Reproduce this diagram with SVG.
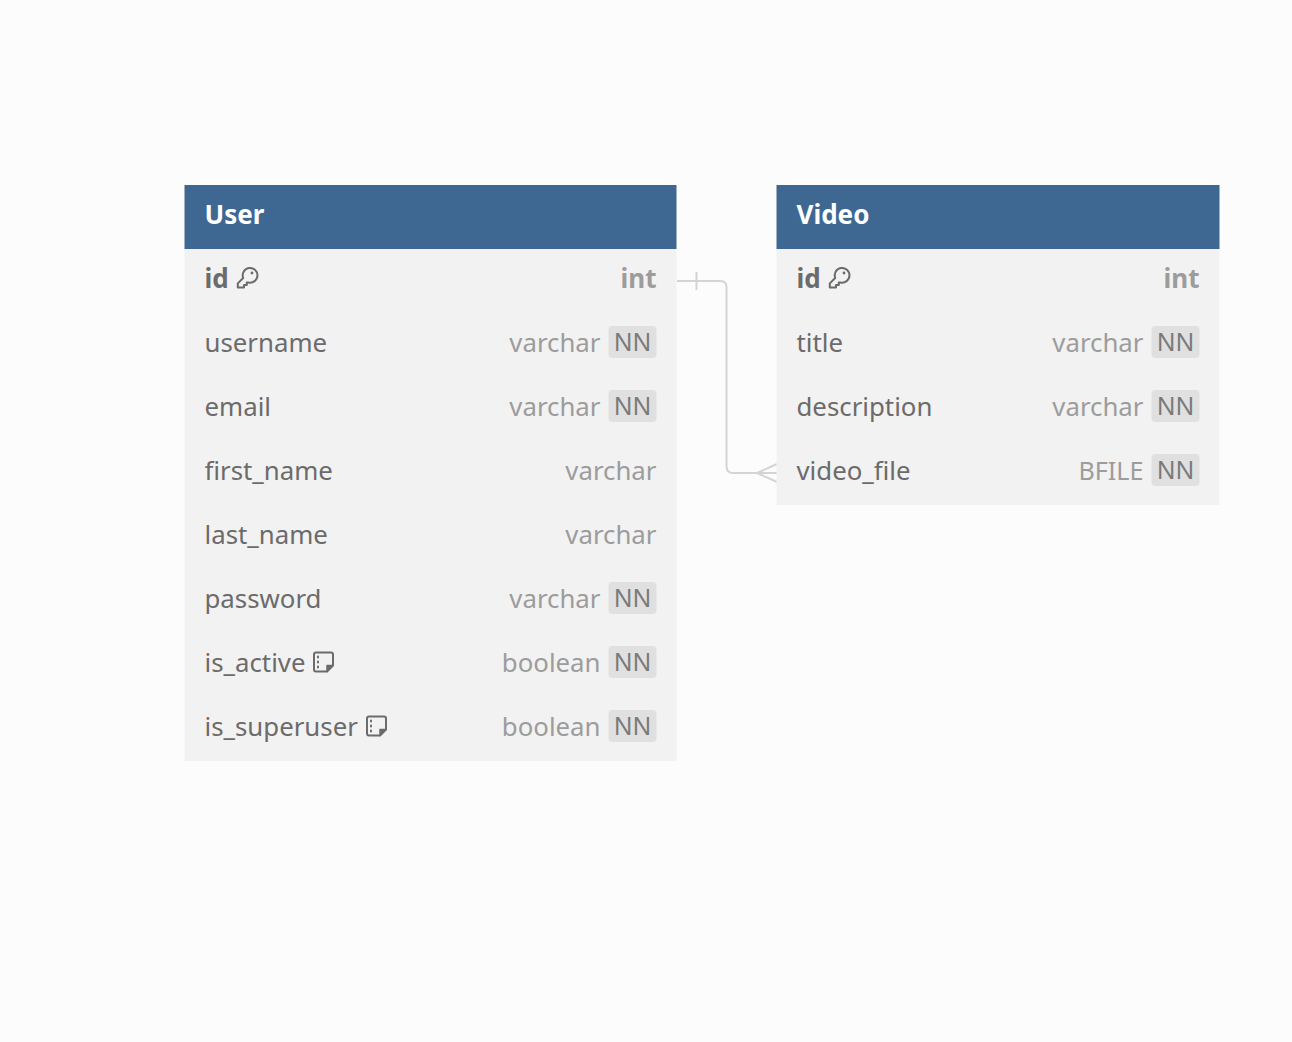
<svg xmlns="http://www.w3.org/2000/svg" width="1292" height="1042" viewBox="0 0 1292 1042">
<style>
text{font-family:"Noto Sans","Open Sans",sans-serif;font-size:25.8px}
.h{fill:#3e6892}.b{fill:#f2f2f2}
.t{fill:#fff;font-weight:700;font-size:26px}
.n{fill:#6b6b6b}.pk{fill:#6b6b6b;font-weight:700;font-size:26px}
.ty{fill:#9c9c9c;text-anchor:end}.tb{fill:#9c9c9c;text-anchor:end;font-weight:700;font-size:26px}
.bd{fill:#e0e0e0}.nn{fill:#7a7a7a;text-anchor:middle;font-size:24.8px}
.i{fill:none;stroke:#6b6b6b;stroke-width:2;stroke-linejoin:round;stroke-linecap:round}
.c{fill:none;stroke:#d4d4d4;stroke-width:2}
</style>
<defs>
<g id="key"><path class="i" d="M.8 19.500V15.400L6.200 10A7.400 7.400 0 1 1 11.400 14.500L9.800 14.500V17H7V19.500Z"/><circle cx="15" cy="5" r="1.400" fill="#6b6b6b"/></g>
<g id="note"><path class="i" d="M3 1H18A2 2 0 0 1 20 3V14L14 20H3A2 2 0 0 1 1 18V3A2 2 0 0 1 3 1Z"/><path d="M14 20V14H20Z" fill="#6b6b6b" stroke="#6b6b6b" stroke-width="1.500" stroke-linejoin="round"/><path d="M5 5V6M5 10V11M5 15V16" class="i" stroke-width="1.500"/></g>
<g id="badge"><rect class="bd" width="48" height="32" rx="4"/></g>
</defs>
<rect width="1292" height="1042" fill="#fcfcfc"/>
<g id="connectors">
<path class="c" d="M677 281H720Q726.500 281 726.500 287V466Q726.500 473 733 473H777"/>
<path class="c" d="M696.500 272V290M777 464L757 473L777 482"/>
</g>
<g id="User">
<rect class="b" x="184.500" y="249" width="492" height="512"/>
<rect class="h" x="184.500" y="185" width="492" height="64"/>
<text class="t" x="204.500" y="224">User</text>
<text class="pk" x="204.500" y="288">id</text><use href="#key" x="237" y="268"/><text class="tb" x="656.500" y="288">int</text>
<text class="n" x="204.500" y="352">username</text><text class="ty" x="600.500" y="352">varchar</text><use href="#badge" x="608.500" y="326"/><text class="nn" x="632.500" y="351">NN</text>
<text class="n" x="204.500" y="416">email</text><text class="ty" x="600.500" y="416">varchar</text><use href="#badge" x="608.500" y="390"/><text class="nn" x="632.500" y="415">NN</text>
<text class="n" x="204.500" y="480">first_name</text><text class="ty" x="656.500" y="480">varchar</text>
<text class="n" x="204.500" y="544">last_name</text><text class="ty" x="656.500" y="544">varchar</text>
<text class="n" x="204.500" y="608">password</text><text class="ty" x="600.500" y="608">varchar</text><use href="#badge" x="608.500" y="582"/><text class="nn" x="632.500" y="607">NN</text>
<text class="n" x="204.500" y="672">is_active</text><use href="#note" x="313" y="651.500"/><text class="ty" x="600.500" y="672">boolean</text><use href="#badge" x="608.500" y="646"/><text class="nn" x="632.500" y="671">NN</text>
<text class="n" x="204.500" y="736">is_superuser</text><use href="#note" x="366" y="715.500"/><text class="ty" x="600.500" y="736">boolean</text><use href="#badge" x="608.500" y="710"/><text class="nn" x="632.500" y="735">NN</text>
</g>
<g id="Video">
<rect class="b" x="776.500" y="249" width="443" height="256"/>
<rect class="h" x="776.500" y="185" width="443" height="64"/>
<text class="t" x="796.500" y="224">Video</text>
<text class="pk" x="796.500" y="288">id</text><use href="#key" x="829" y="268"/><text class="tb" x="1199.500" y="288">int</text>
<text class="n" x="796.500" y="352">title</text><text class="ty" x="1143.500" y="352">varchar</text><use href="#badge" x="1151.500" y="326"/><text class="nn" x="1175.500" y="351">NN</text>
<text class="n" x="796.500" y="416">description</text><text class="ty" x="1143.500" y="416">varchar</text><use href="#badge" x="1151.500" y="390"/><text class="nn" x="1175.500" y="415">NN</text>
<text class="n" x="796.500" y="480">video_file</text><text class="ty" x="1143.500" y="480" textLength="65" lengthAdjust="spacingAndGlyphs">BFILE</text><use href="#badge" x="1151.500" y="454"/><text class="nn" x="1175.500" y="479">NN</text>
</g>
</svg>
